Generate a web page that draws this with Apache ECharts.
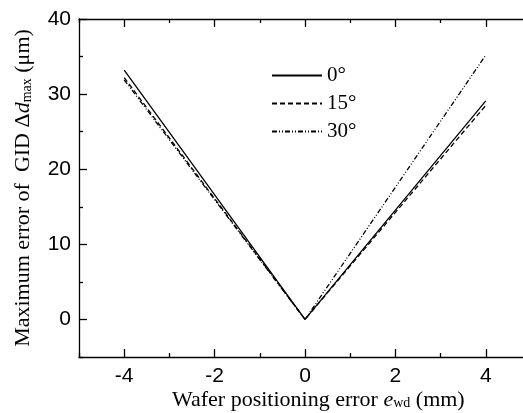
<!DOCTYPE html>
<html>
<head>
<meta charset="utf-8">
<script src="https://cdn.jsdelivr.net/npm/echarts@6/dist/echarts.min.js"></script>
<style>
  html, body { margin: 0; padding: 0; background: #ffffff; overflow: hidden; }
  /* the frame runs slightly past the right edge of the window */
  #chart { width: 540px; height: 413px; }
</style>
</head>
<body>
<div id="chart"></div>
<script>
// Positioning error of the wafer (mm)
const xValues = [-4, 0, 4];
// Maximum GID error (μm) for each tilt angle
const err0 = [33.2, 0, 29.1];
const err15 = [32.2, 0, 28.5];
const err30 = [31.9, 0, 35.2];
const seriesNames = ['0°', '15°', '30°'];

const xMajor = [-4, -2, 0, 2, 4];
const xMinor = [-5, -3, -1, 1, 3, 5];
const yMajor = [0, 10, 20, 30, 40];
const yMinor = [-5, 5, 15, 25, 35];

const serif = 'Liberation Serif, Times New Roman, serif';
const sans = 'Liberation Sans, Arial, sans-serif';

function pairs(ys) { return xValues.map((x, i) => [x, ys[i]]); }

const lineStyleAxis = { color: '#000', width: 1.3 };

function xAxisDef(pos, ticks, len, labels, line) {
  return {
    type: 'value', position: pos, min: -5, max: 5, interval: 1,
    axisLine: { show: line, lineStyle: lineStyleAxis, onZero: false },
    axisTick: { show: true, inside: true, length: len, customValues: ticks, lineStyle: lineStyleAxis },
    axisLabel: labels ? { show: true, customValues: xMajor, color: '#000', fontFamily: sans, fontSize: 21, margin: 9 } : { show: false },
    splitLine: { show: false }
  };
}
function yAxisDef(pos, ticks, len, labels, line) {
  return {
    type: 'value', position: pos, min: -5, max: 40, interval: 5,
    axisLine: { show: line, lineStyle: lineStyleAxis, onZero: false },
    axisTick: { show: true, inside: true, length: len, customValues: ticks, lineStyle: lineStyleAxis },
    axisLabel: labels ? { show: true, customValues: yMajor, color: '#000', fontFamily: sans, fontSize: 21, margin: 8 } : { show: false },
    splitLine: { show: false }
  };
}

const chart = echarts.init(document.getElementById('chart'), null, { renderer: 'canvas' });

const xAxes = [
  xAxisDef('bottom', xMajor, 8, true, true),
  xAxisDef('bottom', xMinor, 4, false, false),
  xAxisDef('top', xMajor, 8, false, true),
  xAxisDef('top', xMinor, 4, false, false)
];
const yAxes = [
  yAxisDef('left', yMajor, 8, true, true),
  yAxisDef('left', yMinor, 4, false, false),
  yAxisDef('right', yMajor, 8, false, true),
  yAxisDef('right', yMinor, 4, false, false)
];

yAxes[0].name = '{t|Maximum error of  GID Δ}{i|d}{s|max}{t| (μm)}';
yAxes[0].nameLocation = 'middle';
yAxes[0].nameGap = 45;
yAxes[0].nameTextStyle = {
  rich: {
    t: { fontFamily: serif, fontSize: 22, color: '#000' },
    i: { fontFamily: serif, fontSize: 22, fontStyle: 'italic', color: '#000' },
    s: { fontFamily: serif, fontSize: 14, color: '#000', padding: [8, 0, 0, 0] }
  }
};

const dashStyles = ['solid', [5, 3], [5, 2, 1, 2, 1, 2]];
const datasets = [err0, err15, err30];

chart.setOption({
  animation: false,
  backgroundColor: '#ffffff',
  grid: { left: 79, top: 19, right: 9, bottom: 56, containLabel: false },
  legend: {
    orient: 'vertical', left: 266, top: 60,
    itemWidth: 50, itemHeight: 20, itemGap: 7,
    itemStyle: { opacity: 0 },
    textStyle: { fontFamily: serif, fontSize: 21, color: '#000' },
    data: seriesNames
  },
  graphic: [{
    type: 'text', left: 172, top: 389,
    style: {
      text: '{t|Wafer positioning error }{i|e}{s|wd}{t| (mm)}',
      rich: {
        t: { fontFamily: serif, fontSize: 22, fill: '#000' },
        i: { fontFamily: serif, fontSize: 22, fontStyle: 'italic', fill: '#000' },
        s: { fontFamily: serif, fontSize: 14, fill: '#000', padding: [7, 0, 0, 0] }
      }
    }
  }],
  xAxis: xAxes,
  yAxis: yAxes,
  series: datasets.map((d, i) => ({
    name: seriesNames[i], type: 'line', data: pairs(d),
    xAxisIndex: 0, yAxisIndex: 0,
    symbol: 'none', lineStyle: { color: '#000', width: 1.3, type: dashStyles[i] },
    itemStyle: { color: '#000' }
  }))
});
</script>
</body>
</html>
